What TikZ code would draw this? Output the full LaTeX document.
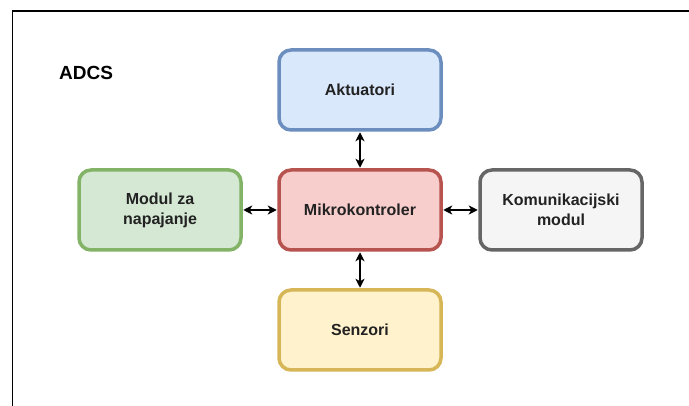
\documentclass[tikz,border=0pt]{standalone}
\usepackage{fontspec}
\setmainfont{Liberation Sans}
\usetikzlibrary{arrows.meta}
\definecolor{bluef}{HTML}{DAE8FC}\definecolor{blues}{HTML}{6C8EBF}
\definecolor{greenf}{HTML}{D5E8D4}\definecolor{greens}{HTML}{82B366}
\definecolor{redf}{HTML}{F8CECC}\definecolor{reds}{HTML}{B85450}
\definecolor{grayf}{HTML}{F5F5F5}\definecolor{grays}{HTML}{666666}
\definecolor{yellowf}{HTML}{FFF2CC}\definecolor{yellows}{HTML}{D6B656}
\definecolor{txt}{HTML}{222222}
\tikzset{
  box/.style={draw, rounded corners=12pt, line width=3.5pt, minimum width=162pt, minimum height=80pt,
    align=center, text=txt, font=\fontsize{16}{20}\selectfont\bfseries},
  link/.style={{Stealth[length=9pt,width=9pt,inset=2.5pt]}-{Stealth[length=9pt,width=9pt,inset=2.5pt]}, line width=1.4pt, black, shorten <=0.5pt, shorten >=0.5pt}
}
\begin{document}
\begin{tikzpicture}[x=1pt,y=1pt]
\useasboundingbox (0,0) rectangle (689,-406);
\fill[white] (0,0) rectangle (689,-406);
\draw[line width=1.8pt, black] (689,-11) -- (12.5,-11) -- (12.5,-406);
\node[anchor=west, font=\fontsize{19}{23}\selectfont\bfseries, text=black, inner sep=0pt] (title) at (59,-73) {ADCS};
\node[box, fill=bluef, draw=blues] (akt) at (360,-90) {Aktuatori};
\node[box, fill=redf, draw=reds] (mik) at (360,-210) {Mikrokontroler};
\node[box, fill=greenf, draw=greens] (mod) at (160,-210) {Modul za\\napajanje};
\node[box, fill=grayf, draw=grays] (kom) at (561,-210) {Komunikacijski\\modul};
\node[box, fill=yellowf, draw=yellows] (sen) at (360,-330) {Senzori};
\draw[link] (akt) -- (mik);
\draw[link] (mik) -- (sen);
\draw[link] (mod) -- (mik);
\draw[link] (mik) -- (kom);
\end{tikzpicture}
\end{document}
